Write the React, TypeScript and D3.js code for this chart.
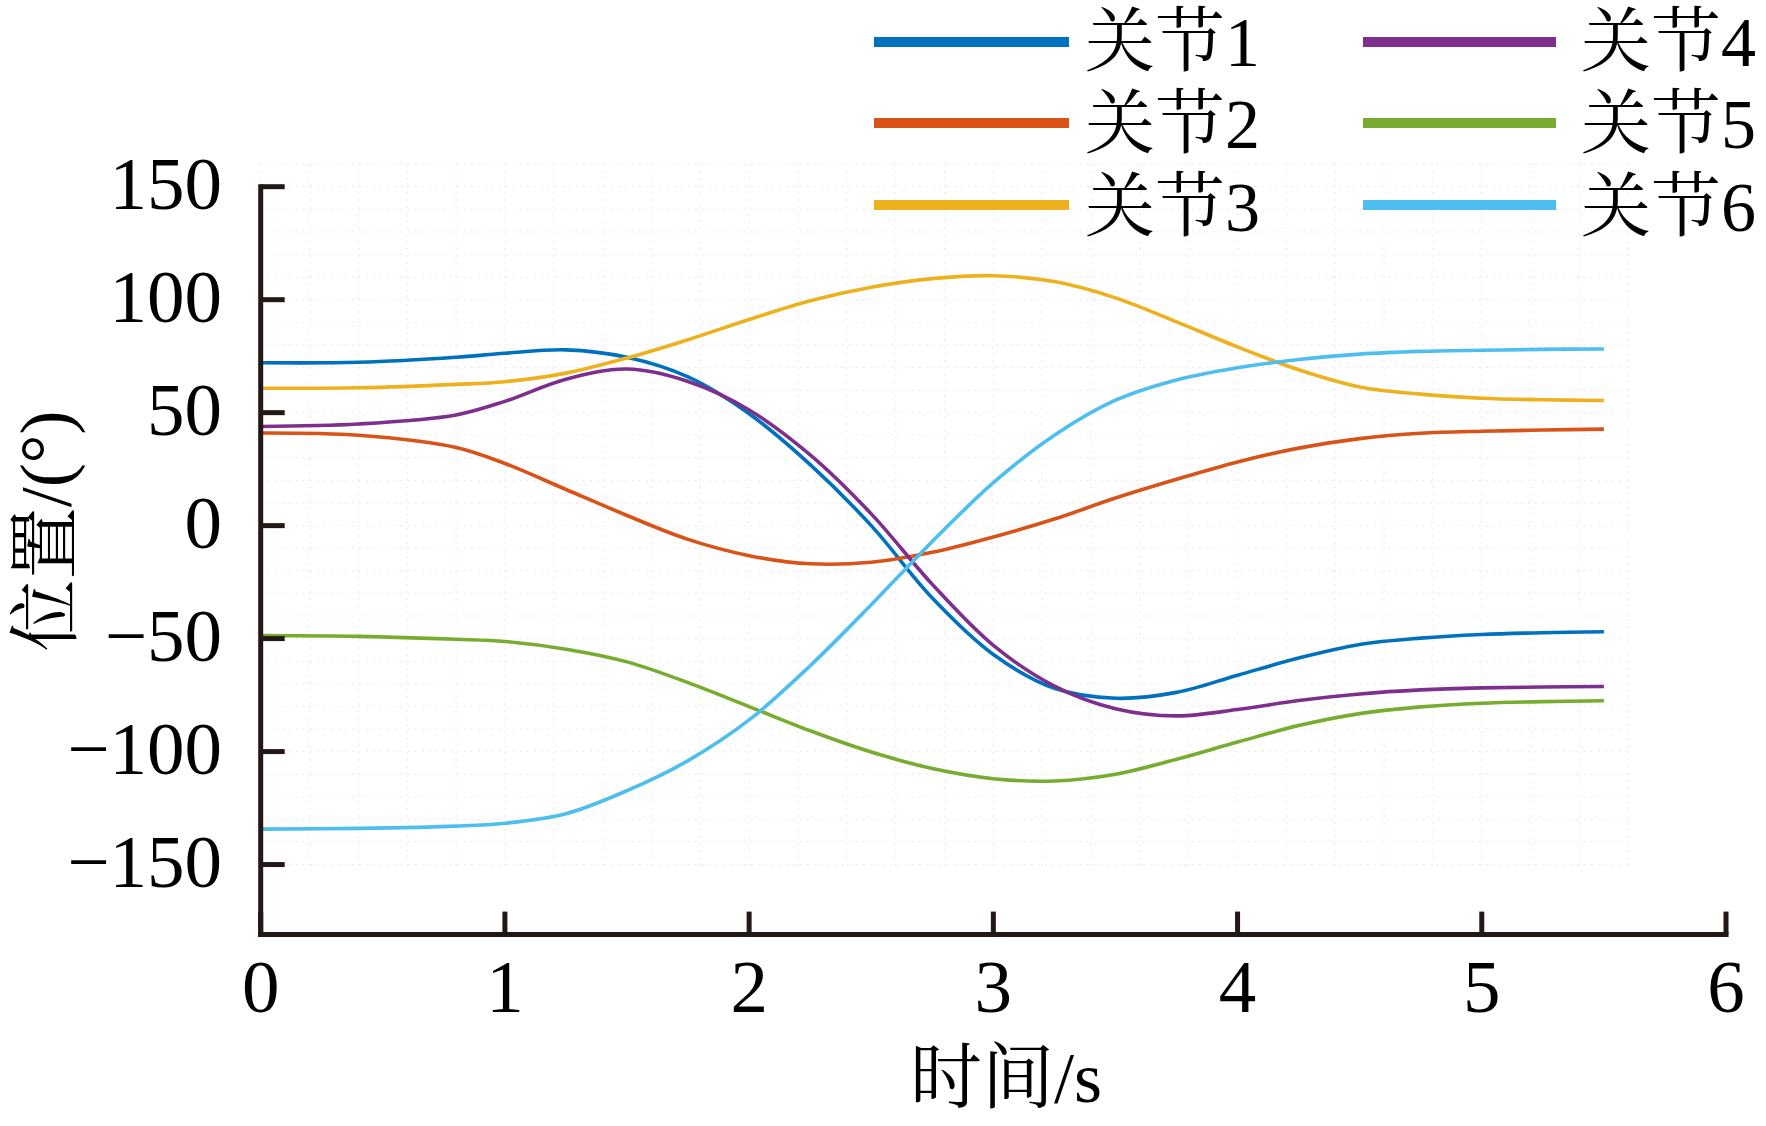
import React from "react";
import * as d3 from "d3";

const times = [0, 0.4, 0.8, 1.0, 1.25, 1.5, 1.75, 2.0, 2.25, 2.5, 2.75, 3.0, 3.25, 3.5, 3.75, 4.0, 4.25, 4.5, 4.75, 5.0, 5.25, 5.5];

const joint1 = [72.1, 72.3, 74.5, 76.3, 77.8, 74.5, 65.8, 49.5, 27, 0, -32, -57, -72, -76.4, -73.8, -66.2, -58.6, -52.6, -49.8, -48.2, -47.4, -47];
const joint2 = [41, 40, 34.6, 27.5, 16, 4.5, -6.1, -13.3, -16.9, -16.2, -11.8, -5, 2.9, 12.2, 20.5, 28.2, 34.3, 38.5, 40.9, 41.8, 42.3, 42.7];
const joint3 = [60.8, 61, 62.5, 63.7, 67.5, 74.2, 82.3, 91.2, 99.5, 105.5, 109.3, 110.6, 108, 100.8, 90.2, 79.1, 69, 61.4, 58.2, 56.4, 55.7, 55.4];
const joint4 = [43.9, 45, 49, 55, 64.8, 69.3, 63.8, 51.2, 31.3, 5.2, -26, -53, -71, -81, -84.2, -81.4, -77.4, -74.5, -72.7, -71.8, -71.4, -71.2];
const joint5 = [-48.6, -49, -50.3, -51.3, -54.7, -60.3, -69.5, -80.1, -90.8, -100.2, -107.5, -112, -113, -110, -103.4, -95.8, -88.5, -83.2, -80.2, -78.6, -77.9, -77.5];
const joint6 = [-134.3, -134, -133, -131.7, -127.5, -117.3, -104, -86, -62, -35, -7, 19, 40, 55.5, 64.5, 69.9, 73.5, 75.9, 77.1, 77.6, 78, 78.2];

const seriesNames = ["关节1", "关节2", "关节3", "关节4", "关节5", "关节6"];
const seriesColors = ["#0072BD", "#D95319", "#EDB120", "#7E2F8E", "#77AC30", "#4DBEEE"];
const seriesValues = [joint1, joint2, joint3, joint4, joint5, joint6];

const xTicks = [0, 1, 2, 3, 4, 5, 6];
const yTicks = [150, 100, 50, 0, -50, -100, -150];
const xGrid = d3.range(0, 5.61, 0.2);
const yGrid = d3.range(-150, 161, 10);

const W = 1766;
const H = 1126;
const AXIS = "#231815";
const FONT = "'Liberation Serif', 'Times New Roman', 'Noto Serif CJK SC', 'Noto Sans CJK SC', serif";

export default function App() {
  const x = d3.scaleLinear().domain([0, 6]).range([260.7, 1726]);
  const y = d3.scaleLinear().domain([-181, 150]).range([934.6, 186.7]);

  const line = d3
    .line<[number, number]>()
    .x((d) => x(d[0]))
    .y((d) => y(d[1]))
    .curve(d3.curveCatmullRom.alpha(0.5));

  const legendRows = [42, 123, 205];
  const legendBase = [66, 148, 231];
  const legendCols = [
    { x1: 874, x2: 1069, tx: 1085 },
    { x1: 1363, x2: 1556, tx: 1581 },
  ];

  return (
    <svg
      width={W}
      height={H}
      viewBox={`0 0 ${W} ${H}`}
      style={{ position: "absolute", left: 0, top: 0, display: "block", background: "#fff" }}
    >
      <rect x={0} y={0} width={W} height={H} fill="#fff" />
      {/* faint grid */}
      <g stroke="#ececec" strokeWidth={1.2} strokeDasharray="2 5">
        {xGrid.map((g, i) => (
          <line key={"gx" + i} x1={x(g)} x2={x(g)} y1={y(160)} y2={y(-152)} />
        ))}
        {yGrid.map((g, i) => (
          <line key={"gy" + i} x1={x(0)} x2={x(5.6)} y1={y(g)} y2={y(g)} />
        ))}
      </g>

      {/* series */}
      {seriesValues.map((vals, i) => (
        <path
          key={"s" + i}
          d={line(times.map((t, j) => [t, vals[j]] as [number, number])) || ""}
          fill="none"
          stroke={seriesColors[i]}
          strokeWidth={3.6}
          strokeLinejoin="round"
          strokeLinecap="butt"
        />
      ))}

      {/* axes */}
      <g stroke={AXIS} strokeWidth={5} fill="none">
        <line x1={x(0)} x2={x(0)} y1={y(150) - 2.5} y2={y(-181) + 2.5} />
        <line x1={x(0) - 2.5} x2={x(6) + 2.5} y1={y(-181)} y2={y(-181)} />
        {yTicks.map((v) => (
          <line key={"yt" + v} x1={x(0)} x2={x(0) + 24} y1={y(v)} y2={y(v)} />
        ))}
        {xTicks.map((v) => (
          <line key={"xt" + v} x1={x(v)} x2={x(v)} y1={y(-181)} y2={y(-181) - 23} />
        ))}
      </g>

      {/* tick labels */}
      <g fontFamily={FONT} fontSize={75} fill="#000">
        {yTicks.map((v) => (
          <text key={"yl" + v} x={222} y={y(v) + 22} textAnchor="end">
            {v < 0 ? "\u2212" + Math.abs(v) : String(v)}
          </text>
        ))}
        {xTicks.map((v) => (
          <text key={"xl" + v} x={x(v)} y={1012} textAnchor="middle">
            {String(v)}
          </text>
        ))}
      </g>

      {/* axis titles */}
      <text x={1006} y={1102} textAnchor="middle" fontFamily={FONT} fontSize={72} fill="#000">
        时间/s
      </text>
      <text
        transform={`translate(70, 531) rotate(-90)`}
        textAnchor="middle"
        fontFamily={FONT}
        fontSize={72}
        fill="#000"
      >
        位置/(°)
      </text>

      {/* legend */}
      {seriesNames.map((name, i) => {
        const col = legendCols[Math.floor(i / 3)];
        const row = i % 3;
        return (
          <g key={"lg" + i}>
            <line
              x1={col.x1}
              x2={col.x2}
              y1={legendRows[row]}
              y2={legendRows[row]}
              stroke={seriesColors[i]}
              strokeWidth={10}
            />
            <text x={col.tx} y={legendBase[row]} fontFamily={FONT} fontSize={70} fill="#000">
              {name}
            </text>
          </g>
        );
      })}
    </svg>
  );
}
